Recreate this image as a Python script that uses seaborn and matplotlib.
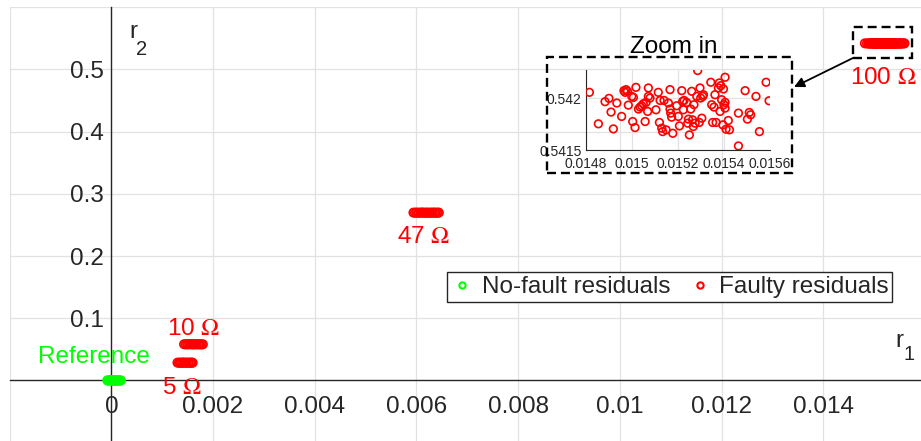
import numpy as np
import pandas as pd
import matplotlib
matplotlib.use("Agg")
import matplotlib.pyplot as plt
import seaborn as sns
from matplotlib.lines import Line2D
from matplotlib.patches import Rectangle

# ---------------- data ----------------
ref_r1 = [-0.00008, -0.00006, -0.00005, -0.00003, -0.00001, 0.00000, 0.00002, 0.00004, 0.00005,
          0.00007, 0.00009, 0.00011, 0.00012, 0.00014, 0.00016, 0.00017, 0.00019]
ref_r2 = [0.0002, -0.0003, 0.0001, 0.0004, -0.0001, 0.0000, 0.0003, -0.0002, 0.0001,
          -0.0004, 0.0002, 0.0000, -0.0001, 0.0003, -0.0002, 0.0001, 0.0000]

f5_r1 = [0.00130, 0.00133, 0.00135, 0.00137, 0.00140, 0.00141, 0.00144, 0.00146, 0.00148,
         0.00151, 0.00152, 0.00155, 0.00157, 0.00158, 0.00160]
f5_r2 = [0.0287, 0.0285, 0.0288, 0.0284, 0.0286, 0.0289, 0.0285, 0.0287, 0.0286,
         0.0284, 0.0288, 0.0286, 0.0285, 0.0287, 0.0286]

f10_r1 = [0.00143, 0.00146, 0.00149, 0.00151, 0.00154, 0.00156, 0.00159, 0.00161, 0.00163,
          0.00166, 0.00168, 0.00171, 0.00173, 0.00175, 0.00178, 0.00180]
f10_r2 = [0.0583, 0.0580, 0.0584, 0.0581, 0.0582, 0.0585, 0.0579, 0.0583, 0.0582,
          0.0580, 0.0584, 0.0581, 0.0583, 0.0582, 0.0580, 0.0582]

f47_r1 = [0.00594, 0.00597, 0.00600, 0.00603, 0.00605, 0.00608, 0.00611, 0.00613, 0.00616, 0.00619,
          0.00621, 0.00624, 0.00627, 0.00629, 0.00632, 0.00635, 0.00637, 0.00640, 0.00642, 0.00644]
f47_r2 = [0.2699, 0.2697, 0.2700, 0.2698, 0.2696, 0.2699, 0.2701, 0.2697, 0.2698, 0.2700,
          0.2696, 0.2699, 0.2698, 0.2697, 0.2700, 0.2698, 0.2699, 0.2697, 0.2698, 0.2699]

f100_r1 = [0.014816, 0.014855, 0.014884, 0.014901, 0.014910, 0.014920, 0.014935, 0.014956, 0.014966, 0.014975,
           0.014981, 0.014971, 0.014985, 0.015000, 0.015007, 0.015004, 0.015014, 0.015018, 0.015029, 0.015036,
           0.015043, 0.015050, 0.015058, 0.015062, 0.015069, 0.015072, 0.015072, 0.015079, 0.015105, 0.015115,
           0.015120, 0.015123, 0.015130, 0.015134, 0.015140, 0.015149, 0.015159, 0.015166, 0.015166, 0.015169,
           0.015173, 0.015178, 0.015195, 0.015202, 0.015207, 0.015217, 0.015221, 0.015224, 0.015227, 0.015238,
           0.015243, 0.015246, 0.015250, 0.015256, 0.015260, 0.015264, 0.015267, 0.015270, 0.015275, 0.015282,
           0.015286, 0.015293, 0.015296, 0.015299, 0.015304, 0.015308, 0.015311, 0.015343, 0.015347, 0.015351,
           0.015357, 0.015361, 0.015366, 0.015376, 0.015380, 0.015383, 0.015386, 0.015390, 0.015395, 0.015398,
           0.015400, 0.015405, 0.015405, 0.015405, 0.015409, 0.015419, 0.015424, 0.015463, 0.015463, 0.015492,
           0.015502, 0.015510, 0.015516, 0.015539, 0.015554, 0.015583, 0.015596]
f100_r2 = [0.542055, 0.541752, 0.541965, 0.541997, 0.541865, 0.541703, 0.541952, 0.541823, 0.542071, 0.542081,
           0.542065, 0.542055, 0.541932, 0.542016, 0.542006, 0.541774, 0.541716, 0.542103, 0.541894, 0.541913,
           0.541926, 0.541945, 0.541774, 0.541958, 0.541871, 0.542097, 0.542016, 0.542000, 0.541887, 0.542055,
           0.541765, 0.541977, 0.541710, 0.541677, 0.541977, 0.541694, 0.541952, 0.542081, 0.541894, 0.541855,
           0.541816, 0.541661, 0.541926, 0.541823, 0.541732, 0.542071, 0.541968, 0.541887, 0.541977, 0.541958,
           0.541758, 0.541797, 0.541645, 0.541894, 0.542065, 0.541790, 0.541726, 0.541936, 0.541758, 0.542016,
           0.542265, 0.541765, 0.542097, 0.542000, 0.541806, 0.542016, 0.542032, 0.542152, 0.541936, 0.541765,
           0.541913, 0.542032, 0.541765, 0.542097, 0.542145, 0.541871, 0.542119, 0.541984, 0.541742, 0.542087,
           0.541936, 0.542200, 0.541958, 0.541903, 0.541700, 0.541784, 0.541694, 0.541855, 0.541539, 0.542071,
           0.541797, 0.541861, 0.541839, 0.542016, 0.541677, 0.542152, 0.541974]

x_ticks = [-0.002, 0.0, 0.002, 0.004, 0.006, 0.008, 0.010, 0.012, 0.014]
x_tick_labels = ["", "0", "0.002", "0.004", "0.006", "0.008", "0.01", "0.012", "0.014"]
y_ticks = [0.1, 0.2, 0.3, 0.4, 0.5, 0.6]
y_tick_labels = ["0.1", "0.2", "0.3", "0.4", "0.5", ""]

inset_x_ticks = [0.0148, 0.0150, 0.0152, 0.0154, 0.0156]
inset_x_labels = ["0.0148", "0.015", "0.0152", "0.0154", "0.0156"]
inset_y_ticks = [0.5415, 0.5420]
inset_y_labels = ["0.5415", "0.542"]

legend_labels = ["No-fault residuals", "Faulty residuals"]
cluster_labels = ["Reference", "5 $\\Omega$", "10 $\\Omega$", "47 $\\Omega$", "100 $\\Omega$"]

# ---------------- style ----------------
GREEN = (0.0, 1.0, 0.0)
RED = (1.0, 0.0, 0.0)
DARK = "#262626"
GRID = "#e2e2e2"
FS = 17.5

sns.set_style("white")
plt.rcParams["font.family"] = ["Liberation Sans", "DejaVu Sans"]
plt.rcParams["mathtext.fontset"] = "stix"

W, H = 921, 441
fig = plt.figure(figsize=(W / 100, H / 100), dpi=100)


def fx(px):
    return px / W


def fy(py):
    return 1 - py / H


df_ok = pd.DataFrame({"r1": ref_r1, "r2": ref_r2})
df_fault = pd.DataFrame({"r1": f5_r1 + f10_r1 + f47_r1 + f100_r1,
                         "r2": f5_r2 + f10_r2 + f47_r2 + f100_r2})
df_zoom = pd.DataFrame({"r1": f100_r1, "r2": f100_r2})

# main axes
ax = fig.add_axes([fx(9.6), 0.0, 1 - fx(9.6), fy(7.3)])
ax.set_facecolor("white")
ax.set_xlim(-0.002, 0.01592)
ax.set_ylim(-0.0973, 0.6)
ax.set_xticks(x_ticks)
ax.set_xticklabels(x_tick_labels)
ax.set_yticks(y_ticks)
ax.set_yticklabels(y_tick_labels)
ax.grid(True, color=GRID, linewidth=0.9)
ax.set_axisbelow(True)
for s in ["top", "right"]:
    ax.spines[s].set_visible(False)
ax.spines["left"].set_position(("data", 0))
ax.spines["bottom"].set_position(("data", 0))
for s in ["left", "bottom"]:
    ax.spines[s].set_color(DARK)
    ax.spines[s].set_linewidth(1.0)
    ax.spines[s].set_zorder(2.5)
ax.tick_params(axis="both", direction="in", length=7, width=1, color=DARK,
               labelcolor=DARK, labelsize=FS)
ax.tick_params(axis="x", pad=11)
ax.tick_params(axis="y", pad=5)

sct = dict(marker="o", s=36, facecolors="none", linewidth=1.2, legend=False, zorder=3)
sns.scatterplot(data=df_ok, x="r1", y="r2", ax=ax, edgecolor=GREEN, **sct)
sns.scatterplot(data=df_fault, x="r1", y="r2", ax=ax, edgecolor=RED, **sct)
ax.set_xlabel("")
ax.set_ylabel("")

# cluster labels
ax.text(-0.00034, 0.0378, cluster_labels[0], color=GREEN, fontsize=FS, ha="center", va="center")
ax.text(0.00139, -0.0115, cluster_labels[1], color=RED, fontsize=FS, ha="center", va="center")
ax.text(0.001626, 0.0834, cluster_labels[2], color=RED, fontsize=FS, ha="center", va="center")
ax.text(0.00614, 0.2313, cluster_labels[3], color=RED, fontsize=FS, ha="center", va="center")
ax.text(0.01518, 0.4861, cluster_labels[4], color=RED, fontsize=FS, ha="center", va="center")

# axis names
fig.text(fx(129), fy(38.3), "r", fontsize=FS, color=DARK, va="baseline", ha="left")
fig.text(fx(136), fy(55), "2", fontsize=14.5, color=DARK, va="baseline", ha="left")
fig.text(fx(895), fy(347), "r", fontsize=FS, color=DARK, va="baseline", ha="left")
fig.text(fx(903), fy(360.5), "1", fontsize=14.5, color=DARK, va="baseline", ha="left")

# legend
handles = [Line2D([], [], ls="none", marker="o", ms=4.5, mfc="none", mec=GREEN, mew=1.5),
           Line2D([], [], ls="none", marker="o", ms=4.5, mfc="none", mec=RED, mew=1.5)]
leg = ax.legend(handles, legend_labels, loc="center", ncol=2,
                bbox_to_anchor=(fx(669.5), fy(287)), bbox_transform=fig.transFigure,
                fontsize=FS, frameon=True, fancybox=False, framealpha=1,
                borderpad=0.15, handletextpad=0.3, columnspacing=0.7, handlelength=1.0,
                borderaxespad=0)
leg.get_frame().set_edgecolor(DARK)
leg.get_frame().set_linewidth(1.0)
leg.set_zorder(5)

# dashed boxes + arrow
fig.patches.append(Rectangle((fx(547), fy(173)), fx(792) - fx(547), fy(57) - fy(173),
                             transform=fig.transFigure, fill=False, edgecolor="black",
                             linewidth=1.7, linestyle=(0, (3.8, 2.1)), zorder=6))
fig.patches.append(Rectangle((fx(853), fy(58)), fx(912) - fx(853), fy(27) - fy(58),
                             transform=fig.transFigure, fill=False, edgecolor="black",
                             linewidth=1.7, linestyle=(0, (3.8, 2.1)), zorder=6))
fig.add_artist(matplotlib.patches.FancyArrowPatch(
    (fx(853), fy(58)), (fx(794), fy(87)), transform=fig.transFigure,
    arrowstyle="-|>,head_length=6,head_width=3", color="black", linewidth=1.3,
    shrinkA=0, shrinkB=0, zorder=6))
fig.text(fx(673.5), fy(53), "Zoom in", fontsize=FS, color="black", ha="center", va="baseline")

# inset
ins = fig.add_axes([fx(585.7), fy(150), fx(770) - fx(585.7), fy(70) - fy(150)])
ins.set_facecolor("none")
ins.set_xlim(0.0148, 0.0156)
ins.set_ylim(0.5415, 0.54227)
ins.set_xticks(inset_x_ticks)
ins.set_xticklabels(inset_x_labels)
ins.set_yticks(inset_y_ticks)
ins.set_yticklabels(inset_y_labels)
ins.grid(True, color=GRID, linewidth=0.9)
ins.set_axisbelow(True)
for s in ["top", "right"]:
    ins.spines[s].set_visible(False)
for s in ["left", "bottom"]:
    ins.spines[s].set_color(DARK)
    ins.spines[s].set_linewidth(0.8)
ins.tick_params(axis="both", direction="in", length=3, width=0.8, color=DARK,
                labelcolor=DARK, labelsize=10)
ins.tick_params(axis="x", pad=5)
ins.tick_params(axis="y", pad=3)
sns.scatterplot(data=df_zoom, x="r1", y="r2", ax=ins, edgecolor=RED,
                marker="o", s=30, facecolors="none", linewidth=1.2, legend=False, zorder=3)
ins.set_xlabel("")
ins.set_ylabel("")

fig.savefig("out.png", dpi=100)
